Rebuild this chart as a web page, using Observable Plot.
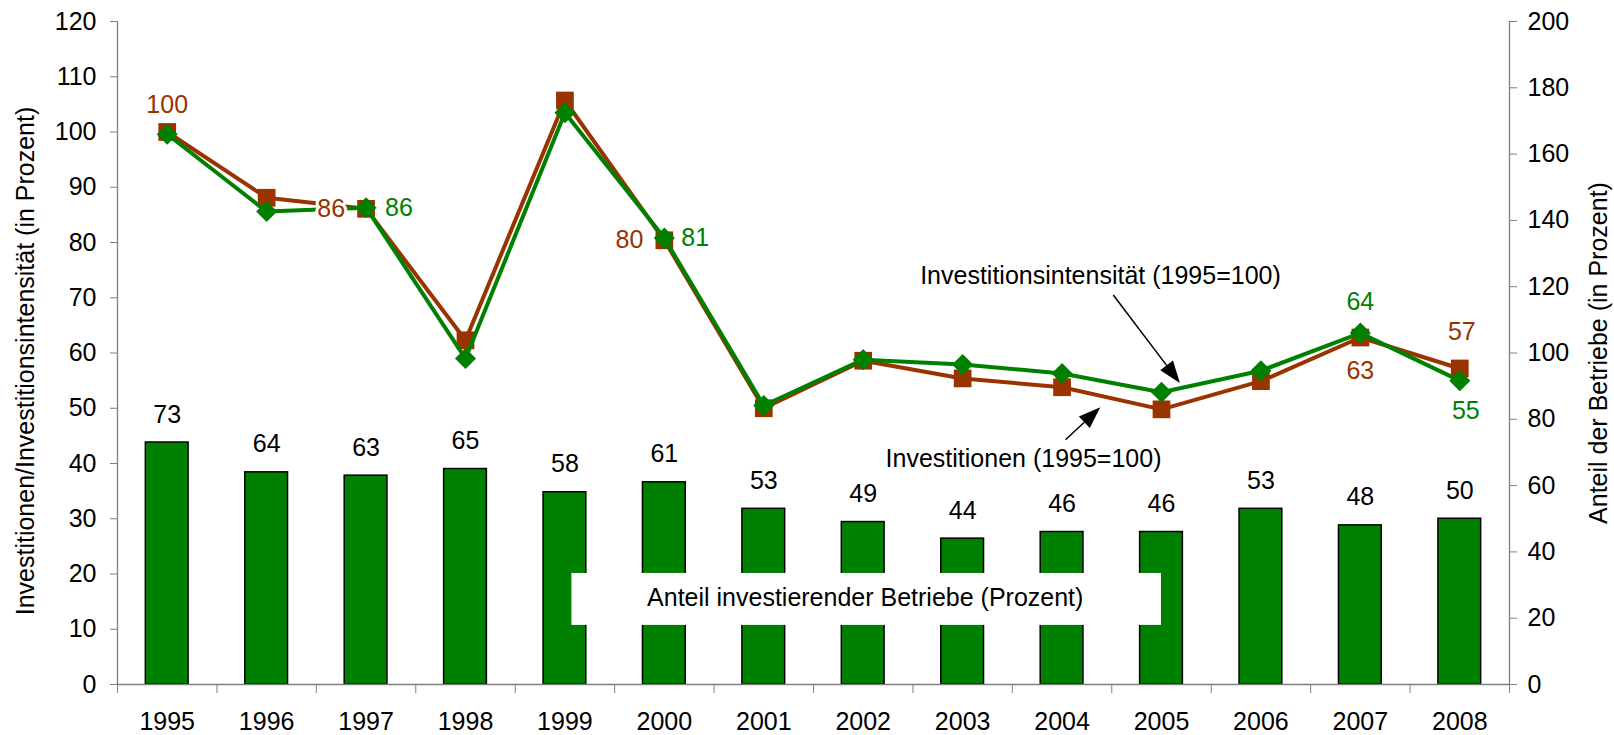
<!DOCTYPE html>
<html>
<head>
<meta charset="utf-8">
<script src="https://cdn.jsdelivr.net/npm/d3@7"></script>
<script src="https://cdn.jsdelivr.net/npm/@observablehq/plot@0.6"></script>
<style>
  html, body { margin: 0; padding: 0; background: #fff; }
  #chart { width: 1614px; height: 735px; }
</style>
</head>
<body>
<div id="chart"></div>
<script>
// ---- data ----
const years = [1995, 1996, 1997, 1998, 1999, 2000, 2001, 2002, 2003, 2004, 2005, 2006, 2007, 2008];
const anteilBetriebe = [73, 64, 63, 65, 58, 61, 53, 49, 44, 46, 46, 53, 48, 50];            // right axis (Prozent)
const investitionen = [100, 88.1, 86.1, 62.3, 105.7, 80.4, 50.0, 58.6, 55.4, 53.8, 49.8, 54.9, 62.8, 57.2];   // 1995=100
const intensitaet = [99.6, 85.6, 86.3, 59.0, 103.5, 80.8, 50.5, 58.8, 57.9, 56.3, 52.9, 56.8, 63.6, 55.0];   // 1995=100
const leftTicks = [0, 10, 20, 30, 40, 50, 60, 70, 80, 90, 100, 110, 120];
const rightTicks = [0, 20, 40, 60, 80, 100, 120, 140, 160, 180, 200];

const leftTitle = "Investitionen/Investitionsintensität (in Prozent)";
const rightTitle = "Anteil der Betriebe (in Prozent)";
const labelInv = "Investitionen (1995=100)";
const labelInt = "Investitionsintensität (1995=100)";
const labelBars = "Anteil investierender Betriebe (Prozent)";

// which points carry a value label
const invLabelYears = [1995, 1997, 2000, 2007, 2008];
const intLabelYears = [1997, 2000, 2007, 2008];

// ---- derived ----
const k = 120 / 200; // right-axis units -> left-axis units
const rows = years.map((year, i) => ({year, anteil: anteilBetriebe[i], inv: investitionen[i], int: intensitaet[i]}));
const boundaries = [...years.map(y => y - 0.5), years[years.length - 1] + 0.5];

const BROWN = "#993300";
const GREEN = "#008000";
const AXIS = "#808080";
const FS = 25;
const FONT = "'Liberation Sans', Arial, Helvetica, sans-serif";

// label placement styles (offsets in px)
const invLabelStyle = {
  1995: {anchor: "middle", dx: 0, dy: -27},
  1997: {anchor: "end", dx: -21, dy: 0},
  2000: {anchor: "end", dx: -21, dy: 0},
  2007: {anchor: "middle", dx: 0, dy: 33},
  2008: {anchor: "middle", dx: 2, dy: -36}
};
const intLabelStyle = {
  1997: {anchor: "start", dx: 19, dy: 0},
  2000: {anchor: "start", dx: 17, dy: 0},
  2007: {anchor: "middle", dx: 0, dy: -31},
  2008: {anchor: "middle", dx: 6, dy: 30}
};

function valueLabels(key, labelYears, styles, color) {
  return rows.filter(d => labelYears.includes(d.year)).map(d => {
    const s = styles[d.year];
    return Plot.text([d], {
      x: "year", y: key, text: r => String(Math.round(r[key])),
      textAnchor: s.anchor, dx: s.dx, dy: s.dy, fill: color, fontSize: FS,
      stroke: "white", strokeWidth: 6
    });
  });
}

// annotation anchors (in data units of the left axis)
const annotations = [
  {text: labelInt, x: 2006.2, y: 74.0},
  {text: labelInv, x: 2005.0, y: 40.9}
];
const arrows = [
  {x1: 2004.52, y1: 70.4, x2: 2005.19, y2: 54.5},
  {x1: 2004.04, y1: 44.2, x2: 2004.39, y2: 50.1}
];
const barBox = {x1: 1999.07, x2: 2005.0, y1: 10.7, y2: 20.1, tx: 2002.02, ty: 15.6};

function arrowMark(index, scales) {
  const ns = "http://www.w3.org/2000/svg";
  const g = document.createElementNS(ns, "g");
  for (const a of arrows) {
    const x1 = scales.x(a.x1), y1 = scales.y(a.y1), x2 = scales.x(a.x2), y2 = scales.y(a.y2);
    const ang = Math.atan2(y2 - y1, x2 - x1);
    const L = 22, W = 8;
    const bx = x2 - L * Math.cos(ang), by = y2 - L * Math.sin(ang);
    const line = document.createElementNS(ns, "line");
    line.setAttribute("x1", x1); line.setAttribute("y1", y1);
    line.setAttribute("x2", bx); line.setAttribute("y2", by);
    line.setAttribute("stroke", "black"); line.setAttribute("stroke-width", 1.5);
    g.appendChild(line);
    const px = -Math.sin(ang) * W, py = Math.cos(ang) * W;
    const head = document.createElementNS(ns, "path");
    head.setAttribute("d", `M${x2},${y2}L${bx + px},${by + py}L${bx - px},${by - py}Z`);
    head.setAttribute("fill", "black");
    g.appendChild(head);
  }
  return g;
}

const chart = Plot.plot({
  width: 1614,
  height: 735,
  marginLeft: 117,
  marginRight: 105,
  marginTop: 21,
  marginBottom: 51,
  style: {fontFamily: FONT, fontSize: FS + "px", background: "#fff", color: "black"},
  x: {type: "linear", domain: [1994.5, 2008.5]},
  y: {type: "linear", domain: [0, 120]},
  marks: [
    // bars (right axis values converted to left units)
    Plot.rectY(rows, {x1: d => d.year - 0.215, x2: d => d.year + 0.215, y: d => d.anteil * k, fill: GREEN, stroke: "black", strokeWidth: 1.5}),
    Plot.text(rows, {x: "year", y: d => d.anteil * k, text: d => String(d.anteil), dy: -28, fontSize: FS, fill: "black"}),
    // white label box over bars
    Plot.rect([barBox], {x1: "x1", x2: "x2", y1: "y1", y2: "y2", fill: "white"}),
    Plot.text([barBox], {x: "tx", y: "ty", text: () => labelBars, fontSize: FS, fill: "black"}),
    // axes lines
    Plot.ruleX([1994.5], {stroke: AXIS, strokeWidth: 1.3}),
    Plot.ruleX([2008.5], {stroke: AXIS, strokeWidth: 1.3}),
    Plot.ruleY([0], {stroke: AXIS, strokeWidth: 1.3}),
    Plot.axisY(leftTicks, {anchor: "left", tickSize: 7, tickPadding: 14, stroke: AXIS, fill: "black", fontSize: FS, label: null, tickFormat: d => String(d)}),
    Plot.axisY(rightTicks.map(v => v * k), {anchor: "right", tickSize: 7, tickPadding: 11, stroke: AXIS, fill: "black", fontSize: FS, label: null, tickFormat: d => String(Math.round(d / k))}),
    Plot.axisX(boundaries, {anchor: "bottom", tickSize: 9, stroke: AXIS, tickFormat: () => "", label: null}),
    Plot.axisX(years, {anchor: "bottom", tickSize: 0, tickPadding: 28, fill: "black", fontSize: FS, label: null, tickFormat: d => String(d)}),
    // axis titles
    Plot.text([leftTitle], {frameAnchor: "left", textAnchor: "middle", rotate: -90, dx: -92, dy: 8, fontSize: FS, fill: "black"}),
    Plot.text([rightTitle], {frameAnchor: "right", textAnchor: "middle", rotate: -90, dx: 89, fontSize: FS, fill: "black"}),
    // lines
    Plot.line(rows, {x: "year", y: "inv", stroke: BROWN, strokeWidth: 4}),
    Plot.dot(rows, {x: "year", y: "inv", symbol: "square", r: 10, fill: BROWN, stroke: null}),
    Plot.line(rows, {x: "year", y: "int", stroke: GREEN, strokeWidth: 4}),
    Plot.dot(rows, {x: "year", y: "int", symbol: "diamond2", r: 9.5, fill: GREEN, stroke: null}),
    // value labels
    ...valueLabels("inv", invLabelYears, invLabelStyle, BROWN),
    ...valueLabels("int", intLabelYears, intLabelStyle, GREEN),
    // annotations
    Plot.text(annotations, {x: "x", y: "y", text: "text", textAnchor: "end", fontSize: FS, fill: "black"}),
    arrowMark
  ]
});
document.getElementById("chart").appendChild(chart);
</script>
</body>
</html>
